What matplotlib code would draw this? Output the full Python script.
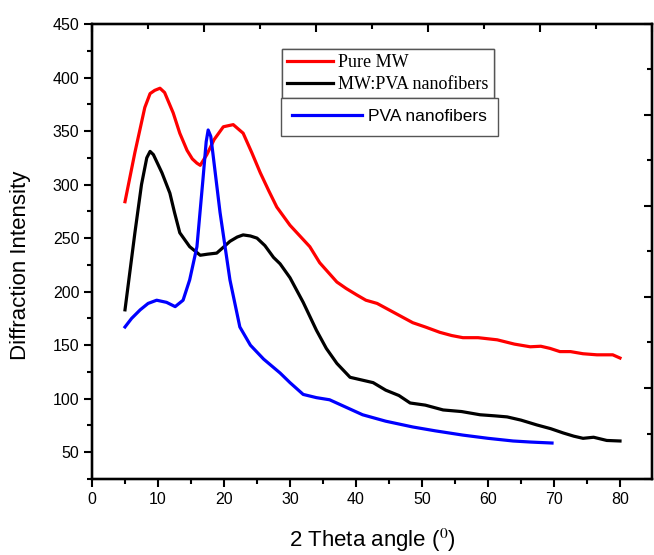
import matplotlib
matplotlib.use("Agg")
import matplotlib.pyplot as plt
from matplotlib.ticker import MultipleLocator

plt.rcParams['font.family'] = ['Liberation Sans', 'DejaVu Sans']
plt.rcParams['mathtext.fontset'] = 'stix'

# Pure MW
mw_x = [5, 6.5, 8, 8.8, 9.5, 10.3, 11, 12.3, 13.3, 14.4, 15.2, 15.9, 16.4, 17.4, 18.5,
        19.9, 21.4, 22.9, 24.2, 25.5, 26.8, 28, 30, 31.5, 33, 34.5, 35.8, 37.1, 38.5,
        40.1, 41.5, 43.2, 45, 46.8, 48.6, 50.5, 52.7, 54.5, 56.2, 58.5, 61.4, 64, 66.4,
        68, 69.4, 70.9, 72.5, 74.4, 76.5, 78.9, 80]
mw_y = [284, 330, 372, 385, 388, 390, 386, 367, 348, 332, 324, 320, 318, 328, 342,
        354, 356, 348, 330, 311, 294, 279, 262, 252, 242, 227, 218, 209, 203,
        197, 192, 189, 183, 177, 171, 167, 162, 159, 157, 157, 155, 151, 148.5,
        149, 147, 144, 144, 142, 141, 141, 138]

# MW:PVA nanofibers
mp_x = [5, 6.5, 7.5, 8.3, 8.8, 9.3, 10.6, 11.8, 12.5, 13.3, 14.8, 16.4, 17.5, 18.9,
        20, 20.9, 22, 22.9, 24, 25, 26.2, 27.5, 28.5, 30, 32, 34, 35.5, 37.1, 39.1,
        40.5, 42.6, 44.5, 46.5, 48.2, 50.5, 53.2, 56, 58.8, 61, 62.9, 65, 67.4, 69.5,
        71.4, 73, 74.4, 76, 78, 80]
mp_y = [183, 255, 300, 325, 331, 328, 311, 292, 274, 255, 242, 234, 235, 236,
        242, 247, 251, 253, 252, 250, 243, 232, 226, 213, 190, 164, 147, 133, 120,
        118, 115, 108, 103, 96, 94, 89.5, 88, 85, 84, 83, 80, 75.5, 72,
        68, 65, 63, 64, 61, 60.5]

# PVA nanofibers
pva_x = [5, 6, 7.3, 8.5, 9.8, 11.3, 12.6, 13.8, 14.8, 15.9, 16.8, 17.3, 17.6, 18.0,
         18.3, 19.4, 20.9, 22.4, 24, 26, 28.5, 30, 32, 34, 36, 38.5, 41, 44.5, 48.6,
         52, 56.2, 60, 63.8, 66.5, 69.7]
pva_y = [167, 175, 183, 189, 192, 190, 186, 192, 211, 242, 304, 340, 351, 345,
         330, 274, 211, 167, 150, 137, 124, 115, 104, 101, 99, 92, 85, 79, 73.6,
         70, 66, 63, 60.5, 59.5, 58.6]

xticks = [0, 10, 20, 30, 40, 50, 60, 70, 80]
yticks = [50, 100, 150, 200, 250, 300, 350, 400, 450]

fig = plt.figure(figsize=(6.54, 5.55), dpi=100)
ax = fig.add_axes([92/654, 1-479/555, 560/654, 455/555])

lw = 2.3
l1, = ax.plot(mw_x, mw_y, color='#ff0000', lw=lw, label='Pure MW')
l2, = ax.plot(mp_x, mp_y, color='#000000', lw=lw, label='MW:PVA nanofibers')
l3, = ax.plot(pva_x, pva_y, color='#0000ff', lw=lw, label='PVA nanofibers')

ax.set_xlim(0, 84.85)
ax.set_ylim(25, 450)
ax.set_xticks(xticks)
ax.set_yticks(yticks)
ax.xaxis.set_minor_locator(MultipleLocator(5))
ax.yaxis.set_minor_locator(MultipleLocator(25))
ax.tick_params(which='major', direction='out', length=6, width=1.5, labelsize=11.5,
               top=False, right=False, pad=3)
ax.tick_params(which='minor', direction='out', length=3.5, width=1.5, top=False, right=False)
for s in ax.spines.values():
    s.set_linewidth(1.6)

ax.set_xlabel('2 Theta angle ($^{0}$)', fontsize=16)
ax.xaxis.set_label_coords(0.5, (479-527)/455)
ax.set_ylabel('Diffraction Intensity', fontsize=16)
ax.yaxis.set_label_coords((31-92)/560, (479-265)/455)

# top and right axes with independent Origin-style ticks
axt = ax.twiny()
axt.set_xlim(0, 10)
axt.xaxis.set_major_locator(MultipleLocator(2))
axt.xaxis.set_minor_locator(MultipleLocator(1))
axt.tick_params(which='major', direction='in', length=6, width=1.5, labeltop=False)
axt.tick_params(which='minor', direction='in', length=3.5, width=1.5)
axr = ax.twinx()
axr.set_ylim(0, 10)
axr.yaxis.set_major_locator(MultipleLocator(2))
axr.yaxis.set_minor_locator(MultipleLocator(1))
axr.tick_params(which='major', direction='in', length=6, width=1.5, labelright=False)
axr.tick_params(which='minor', direction='in', length=3.5, width=1.5)
for a in (axt, axr):
    for s in a.spines.values():
        s.set_linewidth(1.6)

leg1 = fig.legend(handles=[l1, l2], loc='upper left',
                  bbox_to_anchor=(282/654, 1-49/555),
                  prop={'family': 'Liberation Serif', 'size': 13},
                  frameon=True, fancybox=False, edgecolor='#555555', framealpha=1,
                  handlelength=2.5, handletextpad=0.3, borderpad=0.3, labelspacing=0.25,
                  borderaxespad=0)
leg1.get_frame().set_linewidth(1.0)
leg2 = fig.legend(handles=[l3], loc='upper left',
                  bbox_to_anchor=(281/654, 1-98/555),
                  prop={'family': 'Liberation Sans', 'size': 12.5},
                  frameon=True, fancybox=False, edgecolor='#555555', framealpha=1,
                  handlelength=4.0, handletextpad=0.35, borderpad=0.65,
                  borderaxespad=0)
leg2.get_frame().set_linewidth(1.0)
fig.add_artist(leg1)

fig.savefig('out.png', dpi=100)
